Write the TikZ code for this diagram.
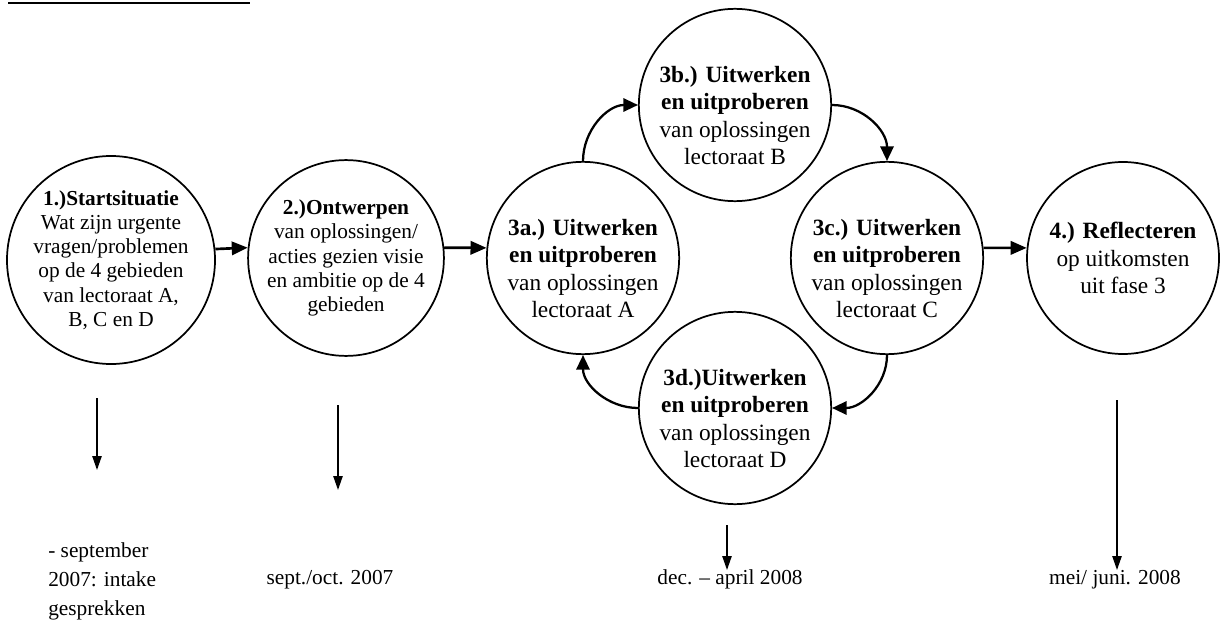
\documentclass[tikz,border=0pt]{standalone}
\usepackage{fontspec}
\setmainfont{Liberation Serif}
\usetikzlibrary{arrows.meta}

\tikzset{
	fase/.style={circle, draw, line width=1.3pt, minimum size=144pt, inner sep=0pt, align=center},
	klein/.style={font=\fontsize{16}{18.2}\selectfont},
	groot/.style={font=\fontsize{17.5}{20.7}\selectfont},
	lager/.style={text height=90pt},
	pijl/.style={-{Triangle[length=12pt,width=10pt]}, line width=2pt},
	boog/.style={-{Triangle[length=11pt,width=10pt]}, line width=1.7pt},
	tijd/.style={-{Triangle[length=10.5pt,width=7pt]}, line width=1.1pt},
	datum/.style={font=\fontsize{16}{21.75}\selectfont, inner sep=0pt}
}

\begin{document}
\begin{tikzpicture}[x=0.75pt, y=0.75pt]
	\useasboundingbox (0,0) rectangle (1220,626);

	\node at (111,366) [fase, klein] (s1) {\textbf{1.)Startsituatie}\\Wat zijn urgente\\vragen/problemen\\op de 4 gebieden\\van lectoraat A,\\B, C en D};
	\node at (346,368) [fase, klein] (s2) {\textbf{2.)Ontwerpen}\\van oplossingen/\\acties gezien visie\\en ambitie op de 4\\gebieden};
	\node at (583,368) [fase, groot, lager] (s3a) {\textbf{3a.) Uitwerken}\\\textbf{en uitproberen}\\van oplossingen\\lectoraat A};
	\node at (735,521) [fase, groot, lager] (s3b) {\textbf{3b.) Uitwerken}\\\textbf{en uitproberen}\\van oplossingen\\lectoraat B};
	\node at (887,368) [fase, groot, lager] (s3c) {\textbf{3c.) Uitwerken}\\\textbf{en uitproberen}\\van oplossingen\\lectoraat C};
	\node at (735,218) [fase, groot, lager] (s3d) {\textbf{3d.)Uitwerken}\\\textbf{en uitproberen}\\van oplossingen\\lectoraat D};
	\node at (1123,368) [fase, groot] (s4) {\textbf{4.) Reflecteren}\\op uitkomsten\\uit fase 3};

	\node at (48,11) [datum, anchor=base west, align=left] (d1) {- september\\2007: intake\\gesprekken};
	\node at (330,42) [datum, anchor=base] (d2) {sept./oct. 2007};
	\node at (730,42) [datum, anchor=base] (d3) {dec. -- april 2008};
	\node at (1115,42) [datum, anchor=base] (d4) {mei/ juni. 2008};

	\coordinate (t1) at (97,228);
	\coordinate (t1e) at (97,156);
	\coordinate (t2) at (338,221);
	\coordinate (t2e) at (338,136);
	\coordinate (t3) at (727,101);
	\coordinate (t3e) at (727,56);
	\coordinate (t4) at (1117,226);
	\coordinate (t4e) at (1117,56);
	\coordinate (kop) at (8,623);
	\coordinate (kope) at (250,623);

	\draw [pijl] (s1.6) -- (s2.174);
	\draw [pijl] (s2.6) -- (s3a.174);
	\draw [pijl] (s3c.6) -- (s4.174);
	\draw [boog] (s3a.north) to[out=90, in=180] (s3b.west);
	\draw [boog] (s3b.east) to[out=0, in=90] (s3c.north);
	\draw [boog] (s3c.south) to[out=-90, in=0] (s3d.east);
	\draw [boog] (s3d.west) to[out=180, in=-90] (s3a.south);

	\draw [tijd] (t1) -- (t1e);
	\draw [tijd] (t2) -- (t2e);
	\draw [tijd] (t3) -- (t3e);
	\draw [tijd] (t4) -- (t4e);
	\draw [line width=1.3pt] (kop) -- (kope);
\end{tikzpicture}
\end{document}
